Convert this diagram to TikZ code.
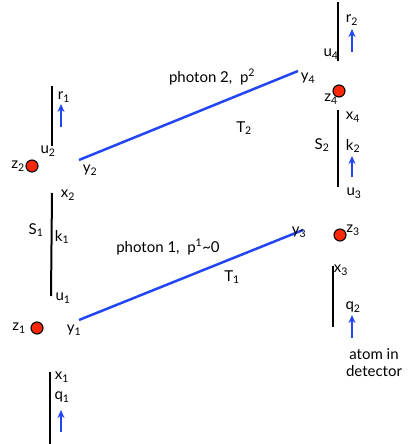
\documentclass[tikz,border=0pt]{standalone}
\usepackage{fontspec}
\setmainfont{Lato}
\usetikzlibrary{arrows.meta}
\definecolor{pblue}{RGB}{35,70,245}
\definecolor{dotred}{RGB}{250,40,10}
\newcommand{\lsub}[1]{\textsubscript{#1}}
\tikzset{
  wline/.style={line width=2pt, black},
  phot/.style={line width=2.5pt, pblue},
  spin/.style={-{Stealth[length=8pt,width=7pt]}, line width=2.2pt, pblue},
  atomdot/.style={circle, draw=black, fill=dotred, line width=1.1pt, minimum size=12pt, inner sep=0pt},
  lbl/.style={font=\fontsize{15}{17}\selectfont, inner sep=0pt, align=center},
}
\begin{document}
\begin{tikzpicture}[x=1pt,y=-1pt]
\useasboundingbox (0,0) rectangle (416,444);
% world line of the source atom
\coordinate (la) at (52,86);  \coordinate (lb) at (52,146);
\coordinate (lc) at (52,193); \coordinate (ld) at (51,296);
\coordinate (le) at (50,372); \coordinate (lf) at (50,444);
\draw[wline] (la) -- (lb);
\draw[wline] (lc) -- (ld);
\draw[wline] (le) -- (lf);
% world line of the detector atom
\coordinate (ra) at (338,2);   \coordinate (rb) at (338,61);
\coordinate (rc) at (338,110); \coordinate (rd) at (338,187);
\coordinate (re) at (333,266); \coordinate (rf) at (333,327);
\draw[wline] (ra) -- (rb);
\draw[wline] (rc) -- (rd);
\draw[wline] (re) -- (rf);
% photons
\coordinate (y2) at (79,160); \coordinate (y4) at (298,71);
\coordinate (y1) at (79,320); \coordinate (y3) at (303,230);
\draw[phot] (y2) -- (y4);
\draw[phot] (y1) -- (y3);
% spins
\coordinate (r1a) at (61,127);  \coordinate (r1b) at (61,104);
\coordinate (q1a) at (61,432);  \coordinate (q1b) at (61,410);
\coordinate (r2a) at (352,52);  \coordinate (r2b) at (352,29);
\coordinate (k2a) at (352,177); \coordinate (k2b) at (352,156);
\coordinate (q2a) at (352,338); \coordinate (q2b) at (352,315);
\draw[spin] (r1a) -- (r1b);
\draw[spin] (q1a) -- (q1b);
\draw[spin] (r2a) -- (r2b);
\draw[spin] (k2a) -- (k2b);
\draw[spin] (q2a) -- (q2b);
% vertices
\node[atomdot] (z2) at (32,166) {};
\node[atomdot] (z1) at (37,328) {};
\node[atomdot] (z4) at (339,91) {};
\node[atomdot] (z3) at (340,235) {};
% labels, left
\node[lbl] (tr1) at (64,97) {r\lsub{1}};
\node[lbl] (tu2) at (48,151) {u\lsub{2}};
\node[lbl] (tz2) at (18,166) {z\lsub{2}};
\node[lbl] (ty2) at (90,170) {y\lsub{2}};
\node[lbl] (tx2) at (68,195) {x\lsub{2}};
\node[lbl] (ts1) at (36,230) {S\lsub{1}};
\node[lbl] (tk1) at (62,237) {k\lsub{1}};
\node[lbl] (tu1) at (63,298) {u\lsub{1}};
\node[lbl] (tz1) at (19,328) {z\lsub{1}};
\node[lbl] (ty1) at (74,330) {y\lsub{1}};
\node[lbl] (tx1) at (62,377) {x\lsub{1}};
\node[lbl] (tq1) at (62,397) {q\lsub{1}};
% labels, right
\node[lbl] (tr2) at (352,20) {r\lsub{2}};
\node[lbl] (tu4) at (331,54) {u\lsub{4}};
\node[lbl] (ty4) at (308,78) {y\lsub{4}};
\node[lbl] (tz4) at (331,99) {z\lsub{4}};
\node[lbl] (tx4) at (353,117) {x\lsub{4}};
\node[lbl] (ts2) at (322,145) {S\lsub{2}};
\node[lbl] (tk2) at (353,146) {k\lsub{2}};
\node[lbl] (tu3) at (354,193) {u\lsub{3}};
\node[lbl] (ty3) at (299,232) {y\lsub{3}};
\node[lbl] (tz3) at (353,230) {z\lsub{3}};
\node[lbl] (tx3) at (341,270) {x\lsub{3}};
\node[lbl] (tq2) at (353,307) {q\lsub{2}};
\node[lbl] (det) at (374,363) {atom in\\detector};
% photon labels
\node[lbl] (ph2) at (212,77) {photon 2,~ p\textsuperscript{2}};
\node[lbl] (tt2) at (244,128) {T\lsub{2}};
\node[lbl] (ph1) at (168,247) {photon 1,~ p\textsuperscript{1}\textasciitilde 0};
\node[lbl] (tt1) at (232,277) {T\lsub{1}};
\end{tikzpicture}
\end{document}
